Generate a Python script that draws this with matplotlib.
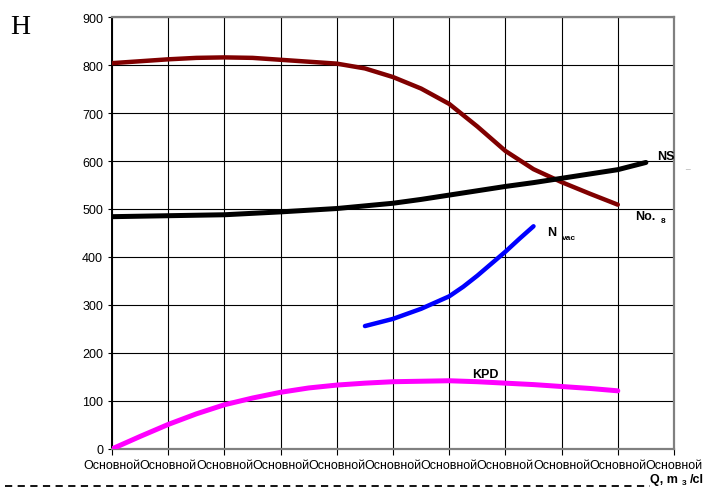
import matplotlib.pyplot as plt

plt.rcParams['font.family'] = ['Liberation Sans', 'DejaVu Sans']

# x positions are tick indices (0..10)
x_head = [0, 0.5, 1, 1.5, 2, 2.5, 3, 3.5, 4, 4.5, 5, 5.5, 6, 6.5, 7, 7.5, 8, 8.5, 9]
head = [804, 808, 812, 815, 816, 815, 811, 807, 803, 793, 775, 751, 719, 672, 621, 583, 556, 532, 509]

x_ns = [0, 1, 2, 3, 4, 5, 5.5, 6, 6.5, 7, 7.5, 8, 8.5, 9, 9.5]
ns = [484, 486, 488, 494, 501, 512, 520, 529, 538, 547, 555, 564, 573, 582, 597]

x_vac = [4.5, 5, 5.5, 6, 6.25, 6.5, 6.75, 7, 7.25, 7.5]
nvac = [256, 271, 292, 318, 338, 361, 386, 411, 438, 464]

x_kpd = [0, 0.5, 1, 1.5, 2, 2.5, 3, 3.5, 4, 4.5, 5, 5.5, 6, 6.5, 7, 7.5, 8, 8.5, 9]
kpd = [0, 26, 51, 73, 92, 106, 118, 127, 133, 137, 140, 141, 142, 140, 137, 134, 130, 126, 121]

tick_labels = ['Основной'] * 11

fig = plt.figure(figsize=(7.05, 4.89), dpi=100)
ax = fig.add_axes([0.159, 0.080, 0.797, 0.883])

ax.plot(x_head, head, color='#800000', lw=3.2, solid_capstyle='round', solid_joinstyle='round', zorder=3)
ax.plot(x_ns, ns, color='black', lw=3.6, solid_capstyle='round', solid_joinstyle='round', zorder=3)
ax.plot(x_vac, nvac, color='#0000ff', lw=3.2, solid_capstyle='round', solid_joinstyle='round', zorder=3)
ax.plot(x_kpd, kpd, color='#ff00ff', lw=3.6, solid_capstyle='round', solid_joinstyle='round', zorder=3)

ax.set_xlim(0, 10)
ax.set_ylim(0, 900)
ax.set_xticks(range(11))
ax.set_xticklabels(tick_labels, fontsize=9)
ax.set_yticks(range(0, 901, 100))
ax.tick_params(axis='y', labelsize=9, length=3, direction='out')
ax.tick_params(axis='x', length=4, direction='out', pad=3)
ax.grid(True, color='black', lw=0.8)
ax.set_axisbelow(True)

for s in ['top', 'right', 'bottom']:
    ax.spines[s].set_color('#808080')
    ax.spines[s].set_linewidth(1.6)
ax.spines['left'].set_color('black')
ax.spines['left'].set_linewidth(1.4)

# curve labels
ax.text(9.7, 605, 'NS', fontsize=9, fontweight='bold')
ax.text(10.2, 588, '_', fontsize=6, color='#909090', clip_on=False)
ax.text(9.3, 480, 'No.', fontsize=9, fontweight='bold')
ax.text(9.76, 472, '8', fontsize=6, fontweight='bold')
ax.text(7.75, 445, 'N', fontsize=9, fontweight='bold')
ax.text(8.0, 437, 'vac', fontsize=6, fontweight='bold')
ax.text(6.4, 150, 'KPD', fontsize=9, fontweight='bold')

fig.text(0.015, 0.93, 'H', fontsize=20, family='Liberation Serif')
fig.text(0.922, 0.012, 'Q, m', fontsize=9, fontweight='bold')
fig.text(0.967, 0.008, '3', fontsize=6, fontweight='bold')
fig.text(0.978, 0.012, '/cl', fontsize=9, fontweight='bold')
fig.add_artist(plt.Line2D([0.007, 0.922], [0.004, 0.004], transform=fig.transFigure,
                          color='black', lw=1.3, ls=(0, (4, 3))))

fig.savefig('out.png', dpi=100)
